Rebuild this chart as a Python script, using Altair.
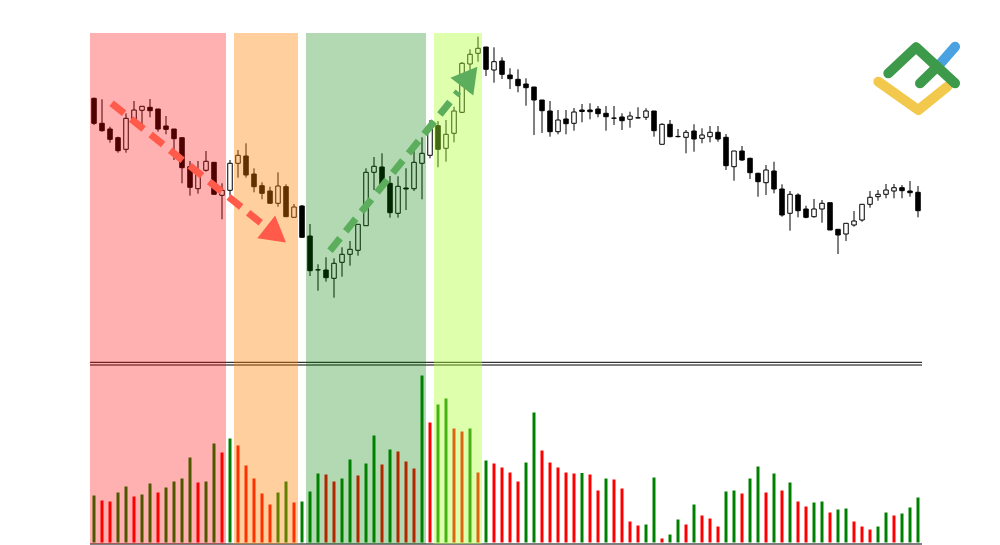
import altair as alt
import pandas as pd

# ---- candle data (arbitrary price units) ----
opens = [301.7, 276.7, 271.0, 262.3, 250.7, 280.7, 289.7, 292.7, 291.0, 274.0,
         271.0, 262.3, 233.3, 211.3, 229.7, 237.7, 204.7, 209.7, 236.7, 244.0,
         226.0, 214.3, 209.0, 196.7, 213.3, 182.7, 194.0, 164.0, 130.0, 130.0,
         121.7, 137.7, 145.7, 149.7, 174.3, 227.7, 233.0, 216.7, 186.7, 212.0,
         211.3, 236.7, 244.7, 274.3, 251.7, 266.7, 287.7, 336.0, 346.7, 353.0,
         330.0, 339.0, 325.0, 320.7, 316.0, 313.0, 300.0, 289.0, 268.3, 281.0,
         276.7, 290.0, 290.0, 291.0, 286.7, 281.7, 283.0, 280.7, 282.0, 282.7,
         289.0, 255.7, 275.7, 263.3, 262.7, 269.0, 261.7, 263.3, 267.7, 262.7,
         233.3, 249.0, 241.7, 226.7, 217.3, 229.0, 211.0, 186.7, 205.0, 191.0,
         183.3, 191.0, 197.3, 170.7, 166.0, 175.0, 180.0, 195.7, 203.3, 205.7,
         209.0, 212.3, 209.0, 207.7]
highs = [302.3, 300.7, 273.3, 263.3, 286.7, 299.0, 294.0, 301.0, 291.0, 284.0,
         271.0, 262.3, 239.0, 239.0, 249.0, 237.7, 216.7, 240.0, 250.0, 256.7,
         231.7, 217.7, 213.3, 227.7, 215.7, 196.0, 195.0, 176.0, 135.7, 142.7,
         141.7, 152.7, 159.0, 175.7, 231.7, 243.0, 246.7, 224.0, 223.7, 231.7,
         255.7, 262.7, 280.0, 279.0, 280.0, 293.3, 338.0, 350.7, 363.3, 353.0,
         352.7, 342.7, 331.7, 330.7, 321.7, 313.0, 300.0, 299.0, 290.0, 290.0,
         292.0, 296.0, 296.7, 294.0, 294.0, 294.0, 286.7, 288.3, 292.7, 291.7,
         289.0, 276.7, 280.0, 271.0, 270.0, 275.7, 271.7, 274.0, 274.0, 266.0,
         249.0, 254.0, 242.3, 227.3, 235.0, 238.3, 215.7, 209.0, 206.7, 194.3,
         201.0, 200.0, 197.3, 170.7, 176.7, 189.0, 195.7, 209.0, 210.0, 216.0,
         216.0, 215.0, 219.0, 214.0]
lows = [275.0, 268.3, 257.3, 247.3, 247.3, 276.0, 276.0, 282.7, 268.3, 265.7,
        240.0, 216.7, 204.3, 206.3, 228.3, 205.7, 180.7, 204.3, 222.3, 222.3,
        207.7, 200.7, 196.7, 193.3, 183.3, 182.7, 162.7, 124.0, 109.3, 118.3,
        102.3, 123.3, 134.3, 144.3, 174.3, 210.0, 213.3, 182.3, 182.3, 190.0,
        209.0, 200.7, 241.7, 232.7, 238.3, 257.7, 287.0, 316.7, 338.3, 324.0,
        317.3, 321.0, 311.0, 307.7, 294.3, 265.0, 267.0, 263.3, 265.7, 265.7,
        269.3, 277.7, 280.7, 282.7, 269.3, 275.0, 270.0, 272.3, 281.7, 280.0,
        263.3, 255.7, 262.7, 262.7, 246.7, 248.3, 256.7, 257.7, 258.3, 230.0,
        219.3, 239.0, 221.0, 203.3, 205.0, 206.7, 183.3, 169.3, 182.7, 181.7,
        182.3, 177.3, 170.0, 146.0, 159.0, 173.3, 178.3, 192.3, 199.3, 201.7,
        201.7, 201.7, 203.3, 182.7]
closes = [276.7, 269.3, 260.7, 249.3, 281.7, 290.0, 293.7, 289.3, 271.0, 270.7,
          261.3, 232.3, 212.7, 228.7, 238.7, 205.7, 209.7, 236.7, 244.7, 225.0,
          213.3, 206.7, 196.7, 214.0, 183.3, 193.0, 162.7, 129.3, 130.3, 122.3,
          136.7, 145.7, 150.7, 175.7, 227.7, 233.7, 213.7, 187.3, 213.7, 211.0,
          237.7, 246.7, 273.7, 250.7, 265.7, 289.0, 336.7, 345.7, 351.7, 330.7,
          338.3, 325.7, 321.3, 314.3, 312.3, 300.0, 289.3, 268.3, 280.0, 276.3,
          288.0, 288.5, 288.3, 286.3, 283.3, 282.0, 279.3, 284.0, 282.3, 289.0,
          269.3, 275.7, 263.3, 263.6, 267.7, 261.0, 265.0, 267.7, 261.0, 234.3,
          249.0, 240.0, 227.3, 218.3, 230.0, 211.0, 185.0, 205.7, 189.3, 182.7,
          191.0, 196.7, 170.0, 165.0, 176.7, 179.0, 195.7, 202.7, 205.7, 210.0,
          212.3, 209.3, 207.3, 189.3]
volumes = [47, 42, 41, 50, 56, 46, 48, 59, 50, 55,
           61, 64, 85, 60, 61, 99, 90, 104, 97, 77,
           64, 49, 38, 50, 61, 40, 41, 51, 69, 68,
           61, 64, 83, 67, 79, 107, 78, 93, 91, 81,
           74, 167, 120, 138, 144, 114, 111, 114, 70, 82,
           79, 75, 70, 61, 80, 130, 92, 80, 75, 70,
           69, 69.5, 68, 52, 64, 63, 54, 21, 17, 18,
           65, 4, 8, 23, 18, 38, 27, 24, 16, 51,
           52, 49, 64, 76, 50, 69, 52, 60, 41, 36,
           40, 41, 30, 33, 34, 21, 16, 13, 16, 30,
           27, 29, 35, 45]

# ---- highlighted phases (candle index ranges) ----
band_start = [0, 18, 27, 43]
band_end = [16, 25, 41, 48]
band_colors = ["#FF0000", "#FF8000", "#008000", "#ADFF2F"]
band_opacity = [0.31, 0.38, 0.30, 0.40]

# ---- trend arrows (index, price) ----
arrow_name = ["down", "down", "up", "up"]
arrow_x = [2.2, 20.96, 29.5, 45.54]
arrow_p = [296.7, 176.5, 149.3, 308.3]
arrow_col = ["#FF5A4A", "#FF5A4A", "#5CAD5C", "#5CAD5C"]
head_x = [22.35, 46.63]
head_p = [167.9, 320.0]
head_angle = [128, 38]
head_col = ["#FF5A4A", "#5CAD5C"]

# ---- logo strokes (index, price units) ----
logo_seg = ["y", "y", "y", "b", "b", "g1", "g1", "g1", "g2", "g2"]
logo_x = [98.04, 103.04, 106.66, 105.75, 107.63, 99.29, 102.75, 107.63, 103.25, 105.41]
logo_p = [318.3, 290.0, 313.3, 336.0, 353.3, 326.7, 352.7, 316.7, 316.7, 333.3]
logo_col = {"y": "#F2C94C", "b": "#4AA3E0", "g1": "#3E9A4B", "g2": "#3E9A4B"}

W, H = 832, 511
n = len(opens)
df = pd.DataFrame({"i": list(range(n)), "open": opens, "high": highs,
                   "low": lows, "close": closes, "volume": volumes})
df["base"] = 0
prev = df["volume"].shift(1)
df["vcol"] = ["#008000" if (pd.isna(p) or v > p) else "#FF0000"
              for v, p in zip(df["volume"], prev)]

bands = pd.DataFrame({"x0": [s - 0.5 for s in band_start],
                      "x1": [e + 0.5 for e in band_end],
                      "c": band_colors, "o": band_opacity})
arrows = pd.DataFrame({"name": arrow_name, "x": arrow_x, "p": arrow_p, "c": arrow_col})
heads = pd.DataFrame({"x": head_x, "p": head_p, "a": head_angle, "c": head_col})
logo = pd.DataFrame({"seg": logo_seg, "x": logo_x, "p": logo_p,
                     "k": list(range(len(logo_seg)))})
logo["c"] = logo["seg"].map(logo_col)
seps = pd.DataFrame({"v": [180.2, 177.5, -1.5]})

xs = alt.Scale(domain=[-0.5, n - 0.5], nice=False, zero=False, padding=0)
ps = alt.Scale(domain=[-144, 367], nice=False, zero=False)
vs = alt.Scale(domain=[-1.5, 509.5], nice=False, zero=False)

base = alt.Chart(df)
vol = base.mark_bar(size=3).encode(
    x=alt.X("i:Q", scale=xs, axis=None),
    y=alt.Y("volume:Q", scale=vs, axis=None),
    y2="base:Q",
    color=alt.Color("vcol:N", scale=None))
wick = base.mark_rule(color="black", strokeWidth=1).encode(
    x=alt.X("i:Q", scale=xs, axis=None),
    y=alt.Y("low:Q", scale=ps, axis=None),
    y2="high:Q")
body = base.mark_bar(size=4.5, stroke="black", strokeWidth=1).encode(
    x=alt.X("i:Q", scale=xs, axis=None),
    y=alt.Y("open:Q", scale=ps, axis=None),
    y2="close:Q",
    fill=alt.condition("datum.close > datum.open", alt.value("white"), alt.value("black")))
sep = alt.Chart(seps).mark_rule(color="black", strokeWidth=1).encode(
    y=alt.Y("v:Q", scale=vs, axis=None),
    x=alt.value(0), x2=alt.value(W))
band = alt.Chart(bands).mark_rect().encode(
    x=alt.X("x0:Q", scale=xs, axis=None), x2="x1:Q",
    y=alt.value(0), y2=alt.value(H),
    color=alt.Color("c:N", scale=None),
    opacity=alt.Opacity("o:Q", scale=None))
arr = alt.Chart(arrows).mark_line(strokeWidth=7, strokeDash=[16, 9], strokeCap="butt").encode(
    x=alt.X("x:Q", scale=xs, axis=None),
    y=alt.Y("p:Q", scale=ps, axis=None),
    color=alt.Color("c:N", scale=None),
    detail="name:N")
head = alt.Chart(heads).mark_point(shape="triangle", filled=True, size=840, opacity=1).encode(
    x=alt.X("x:Q", scale=xs, axis=None),
    y=alt.Y("p:Q", scale=ps, axis=None),
    color=alt.Color("c:N", scale=None),
    angle=alt.Angle("a:Q", scale=None))

def logo_part(seg):
    return alt.Chart(logo).transform_filter(alt.datum.seg == seg).mark_line(
        strokeWidth=10, strokeCap="round", strokeJoin="round").encode(
        x=alt.X("x:Q", scale=xs, axis=None),
        y=alt.Y("p:Q", scale=ps, axis=None),
        color=alt.Color("c:N", scale=None),
        order="k:Q")

chart = alt.layer(
    vol, wick, body, sep, band, arr, head,
    logo_part("y"), logo_part("b"), logo_part("g1"), logo_part("g2")
).resolve_scale(y="independent").properties(
    width=W, height=H,
    padding={"left": 82, "top": 25, "right": 60, "bottom": 2},
    autosize=alt.AutoSizeParams(type="none"),
    background="white"
).configure_view(stroke=None)

chart.save("out.html", embed_options={"renderer": "svg", "actions": False})
